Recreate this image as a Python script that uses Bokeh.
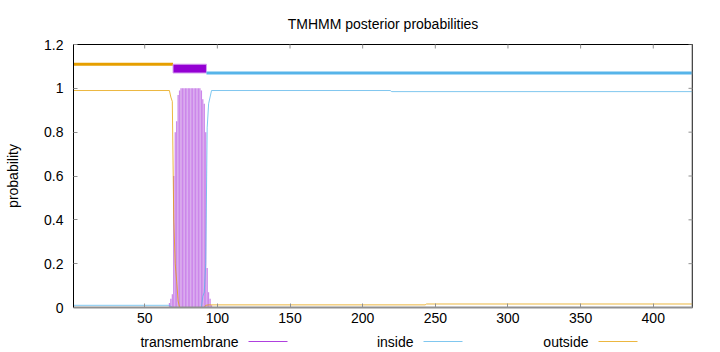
import math
from bokeh.plotting import figure
from bokeh.models import Range1d, FixedTicker, Span, ColumnDataSource
from bokeh.layouts import column
from bokeh.core.properties import value
from bokeh.embed import file_html
from bokeh.resources import INLINE

# ---------------- data ----------------
seq_len = 427
title_text = "TMHMM posterior probabilities"
y_label = "probability"

# predicted topology (top band)
region_kind = ["outside", "TMhelix", "inside"]
region_start = [1, 70, 93]
region_end = [69, 92, 427]

# posterior probability of "outside" (breakpoints)
outside_res = [1, 67, 68, 69, 70, 71, 72, 73, 74, 91, 92, 94, 243, 244, 427]
outside_prob = [0.99, 0.99, 0.96, 0.94, 0.40, 0.20, 0.12, 0.03, 0.0, 0.0, 0.01, 0.012, 0.012, 0.016, 0.016]

# posterior probability of "inside" (breakpoints)
inside_res = [1, 67, 69, 89, 90, 91, 92, 93, 94, 95, 96, 219, 220, 427]
inside_prob = [0.01, 0.01, 0.0, 0.0, 0.05, 0.07, 0.20, 0.82, 0.93, 0.96, 0.99, 0.99, 0.985, 0.985]

# posterior probability of "transmembrane" per residue
tm_res = [67, 68, 69, 70, 71, 72, 73, 74, 75, 76, 77, 78, 79, 80, 81, 82,
          83, 84, 85, 86, 87, 88, 89, 90, 91, 92, 93, 94, 95, 96]
tm_prob = [0.02, 0.04, 0.06, 0.60, 0.80, 0.85, 0.97, 0.99, 1.0, 1.0, 1.0, 1.0, 1.0, 1.0, 1.0, 1.0,
           1.0, 1.0, 1.0, 1.0, 1.0, 1.0, 0.99, 0.95, 0.93, 0.80, 0.18, 0.07, 0.04, 0.01]

x_ticks = [50, 100, 150, 200, 250, 300, 350, 400]
y_ticks = [0, 0.2, 0.4, 0.6, 0.8, 1, 1.2]
y_tick_labels = ["0", "0.2", "0.4", "0.6", "0.8", "1", "1.2"]

legend_labels = ["transmembrane", "inside", "outside"]

# ---------------- style ----------------
C_TM = "#9400d3"
C_IN = "#56b4e9"
C_OUT = "#e69f00"
FONT = "Liberation Sans"
FS = "14px"
GREY = "#909090"

level = {"outside": 1.11, "inside": 1.07}
band_color = {"outside": C_OUT, "inside": C_IN}

FRAME_L, FRAME_R = 73, 692

p = figure(width=720, height=330,
           x_range=Range1d(1, seq_len), y_range=Range1d(0, 1.2),
           output_backend="svg", toolbar_location=None,
           min_border_left=FRAME_L, min_border_right=720 - FRAME_R,
           min_border_top=44, min_border_bottom=23)

p.title.text = title_text
p.title.align = "center"
p.title.text_font = FONT
p.title.text_font_size = FS
p.title.text_font_style = "normal"
p.title.text_color = "black"
p.title.standoff = 25

p.xgrid.visible = False
p.ygrid.visible = False
p.outline_line_color = "black"
p.outline_line_width = 1

for ax in (p.xaxis[0], p.yaxis[0]):
    ax.major_tick_in = 4
    ax.major_tick_out = 0
    ax.minor_tick_line_color = None
    ax.major_tick_line_color = GREY
    ax.major_label_text_font = FONT
    ax.major_label_text_font_size = FS
    ax.major_label_text_color = "black"

p.xaxis.ticker = FixedTicker(ticks=x_ticks)
p.xaxis.axis_line_color = GREY
p.xaxis.axis_line_width = 2
p.xaxis.major_label_standoff = 5

p.yaxis.ticker = FixedTicker(ticks=y_ticks)
p.yaxis.major_label_overrides = {t: l for t, l in zip(y_ticks, y_tick_labels)}
p.yaxis.axis_line_color = "black"
p.yaxis.major_label_standoff = 10
p.yaxis.axis_label = y_label
p.yaxis.axis_label_text_font = FONT
p.yaxis.axis_label_text_font_size = FS
p.yaxis.axis_label_text_font_style = "normal"
p.yaxis.axis_label_text_color = "black"
p.yaxis.axis_label_standoff = 20

# right border (grey, like the bottom one)
p.add_layout(Span(location=seq_len, dimension="height", line_color=GREY, line_width=2))

# mirrored ticks on the top and right borders (half of each dash is clipped)
p.scatter(x=x_ticks, y=[1.2] * len(x_ticks), marker="dash", size=8, angle=math.pi / 2,
          line_color=GREY, line_width=1)
p.scatter(x=[seq_len] * len(y_ticks), y=y_ticks, marker="dash", size=8,
          line_color=GREY, line_width=1)

# TM impulses
tm_src = ColumnDataSource(dict(x=tm_res, top=tm_prob))
p.vbar(x="x", top="top", bottom=0, width=1.0, source=tm_src,
       fill_color=C_TM, fill_alpha=0.25, line_color=None)
p.vbar(x="x", top="top", bottom=0, width=0.5, source=tm_src,
       fill_color=C_TM, fill_alpha=0.4, line_color=None)

# posterior lines
p.line(outside_res, outside_prob, line_color=C_OUT, line_width=1, line_alpha=0.75)
p.line(inside_res, inside_prob, line_color=C_IN, line_width=1, line_alpha=0.75)

# topology band
for kind, s, e in zip(region_kind, region_start, region_end):
    if kind == "TMhelix":
        p.quad(left=s - 0.5, right=e + 0.5, bottom=level["inside"], top=level["outside"],
               fill_color=C_TM, line_color="#d59cf0", line_width=1)
    else:
        x0 = s if s == 1 else s - 0.5
        x1 = e if e == seq_len else e + 0.5
        p.segment(x0=[x0], y0=[level[kind]], x1=[x1], y1=[level[kind]],
                  line_color=band_color[kind], line_width=3)

# ---------------- legend strip ----------------
# the column aligns this strip's frame with the main frame, so its x range
# spans the same canvas pixels as the main frame
leg = figure(width=720, height=22, x_range=Range1d(FRAME_L, FRAME_R), y_range=Range1d(0, 22),
             output_backend="svg", toolbar_location=None,
             x_axis_type=None, y_axis_type=None, min_border=0,
             min_border_left=FRAME_L, min_border_right=720 - FRAME_R)
leg.outline_line_color = None
leg.xgrid.visible = False
leg.ygrid.visible = False
text_right = [238, 413, 588]
leg_colors = [C_TM, C_IN, C_OUT]
leg.text(x=text_right, y=[11, 11, 11], text=legend_labels, text_align="right",
         text_baseline="middle", text_font=value(FONT), text_font_size=FS, text_color="black")
leg.segment(x0=[t + 10 for t in text_right], y0=[11, 11, 11],
            x1=[t + 49 for t in text_right], y1=[11, 11, 11],
            line_color=leg_colors, line_width=1, line_alpha=0.75)

layout = column(p, leg, spacing=0)
open("out.html", "w").write(file_html(layout, INLINE))
